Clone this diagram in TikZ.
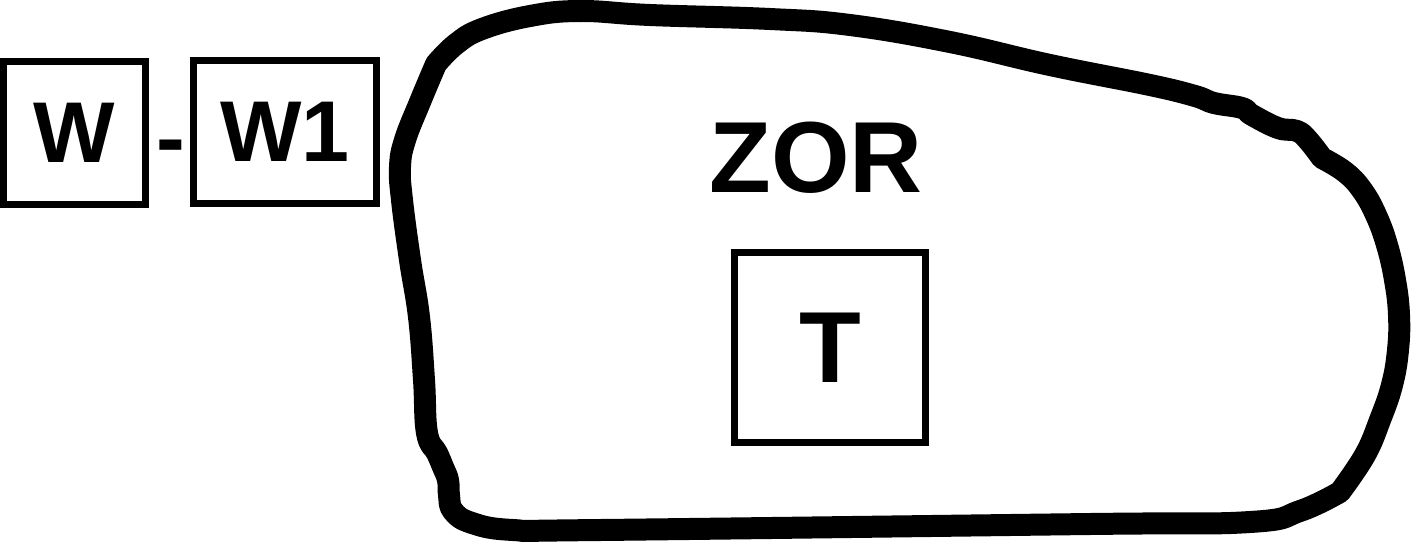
\documentclass[tikz,border=0pt]{standalone}
\usepackage{fontspec}
\setmainfont{Liberation Sans}
\begin{document}
\begin{tikzpicture}[x=0.02cm,y=-0.02cm,
  outline/.style={line width=0.44cm, line join=round, line cap=round},
  boxnode/.style={draw, line width=0.14cm, inner sep=0pt, text depth=0pt},
  lbl/.style={font=\bfseries\fontsize{49.1}{50}\selectfont, inner sep=0pt},
  biglbl/.style={font=\bfseries\fontsize{57.5}{58}\selectfont, inner sep=0pt}]
\useasboundingbox (0,0) rectangle (1411,542);
% outline of the zone
\draw[outline] plot[smooth, tension=0.7] coordinates {(436,64) (456,44) (482,29) (530,16) (580,11) (650,15) (770,19) (850,25) (950,42) (1050,65) (1150,85) (1195,96) (1214,103) (1242,108) (1252,115) (1278,128) (1297,131) (1308,140) (1322,158)}
  -- plot[smooth, tension=0.7] coordinates {(1322,158) (1345,172) (1362,190) (1376,215) (1387,245) (1395,280) (1399,315) (1398,350) (1392,385) (1380,420) (1365,455) (1340,492)}
  -- plot[smooth, tension=0.7] coordinates {(1340,492) (1300,511) (1250,522) (1090,524) (600,530) (513,530) (472,523) (453,511) (449,495) (448,480) (443,467) (437,453) (427,433) (424,380) (419,317) (410,260) (402,200) (400,167) (405,140) (420,102) (436,64)}
  -- cycle;
% boxes
\node[boxnode, lbl, minimum width=142*0.02cm, minimum height=143*0.02cm] (w) at (74.5,133) {W};
\node[boxnode, lbl, minimum width=183*0.02cm, minimum height=143*0.02cm] (w1) at (285,132) {W1};
\node[lbl, anchor=base] (dash) at (170.5,167) {-};
\node[boxnode, biglbl, minimum width=191*0.02cm, minimum height=190*0.02cm] (t) at (830,347.5) {T};
\node[biglbl, anchor=base] (zor) at (816,192) {ZOR};
\end{tikzpicture}
\end{document}
